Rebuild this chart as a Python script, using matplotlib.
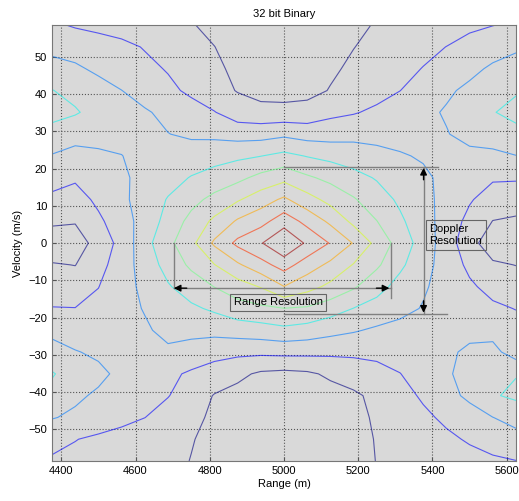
import numpy as np
import matplotlib
matplotlib.use("Agg")
import matplotlib.pyplot as plt

plt.rcParams['font.family'] = ['Liberation Sans', 'DejaVu Sans']

# grid of the ambiguity surface (range in m, velocity in m/s, top row first)
range_m = np.linspace(4375, 5625, 21)
velocity = np.linspace(58.5, -58.5, 21)

amb = np.array([
    [2.15, 1.91, 1.74, 1.57, 1.39, 1.22, 1.05, 0.80, 0.60, 0.50, 0.45, 0.50, 0.60, 0.80, 1.07, 1.25, 1.43, 1.62, 1.80, 1.98, 2.15],
    [2.70, 2.60, 2.45, 2.25, 1.94, 1.63, 1.32, 1.01, 0.70, 0.50, 0.45, 0.50, 0.65, 0.98, 1.25, 1.50, 1.76, 2.01, 2.35, 2.60, 2.85],
    [3.40, 3.15, 2.82, 2.53, 2.24, 1.93, 1.56, 1.18, 0.80, 0.55, 0.50, 0.55, 0.85, 1.17, 1.45, 1.74, 2.03, 2.39, 2.76, 3.15, 3.40],
    [4.03, 3.71, 3.36, 3.01, 2.62, 2.22, 1.81, 1.36, 0.95, 0.65, 0.60, 0.70, 1.05, 1.35, 1.67, 1.99, 2.42, 2.85, 3.20, 3.50, 3.90],
    [4.40, 4.10, 3.64, 3.37, 3.10, 2.77, 2.40, 2.04, 1.49, 1.34, 1.33, 1.38, 1.77, 1.93, 2.18, 2.48, 2.78, 3.09, 3.43, 3.95, 4.30],
    [3.56, 3.31, 3.24, 3.15, 3.12, 3.02, 2.84, 2.78, 2.61, 2.61, 2.80, 2.59, 2.58, 2.70, 2.67, 2.64, 2.70, 2.95, 3.30, 3.55, 3.70],
    [2.95, 2.73, 2.88, 2.99, 3.16, 3.32, 3.48, 3.64, 3.81, 3.98, 4.26, 3.95, 3.73, 3.52, 3.31, 3.09, 2.90, 2.70, 2.76, 2.74, 2.98],
    [2.38, 2.14, 2.54, 2.85, 3.27, 3.65, 4.05, 4.38, 4.74, 5.29, 5.70, 5.15, 4.74, 4.32, 3.92, 3.55, 3.18, 2.75, 2.46, 2.12, 2.10],
    [1.79, 1.58, 2.21, 2.79, 3.42, 4.06, 4.68, 5.29, 5.89, 6.54, 7.17, 6.38, 5.69, 5.09, 4.45, 3.83, 3.28, 2.70, 2.10, 1.53, 1.47],
    [1.20, 1.08, 1.81, 2.56, 3.40, 4.34, 5.31, 6.21, 7.13, 7.65, 8.56, 7.70, 6.80, 5.75, 5.02, 4.17, 3.41, 2.59, 1.71, 0.98, 0.85],
    [0.30, 0.44, 1.43, 2.30, 3.65, 4.74, 5.72, 7.17, 8.24, 8.92, 10.0, 8.82, 7.94, 6.94, 5.70, 4.58, 3.56, 2.50, 1.36, 0.42, 0.30],
    [1.08, 0.98, 1.67, 2.50, 3.44, 4.36, 5.19, 5.97, 6.85, 7.64, 8.41, 7.51, 6.77, 5.94, 5.17, 4.19, 3.37, 2.56, 1.79, 1.15, 0.98],
    [1.63, 1.49, 1.98, 2.60, 3.24, 3.91, 4.47, 5.02, 5.54, 6.06, 6.98, 6.36, 5.77, 5.13, 4.34, 3.67, 3.12, 2.62, 2.15, 1.70, 1.49],
    [2.03, 2.02, 2.25, 2.60, 3.07, 3.45, 3.83, 4.16, 4.60, 4.80, 4.98, 4.88, 4.46, 3.98, 3.64, 3.28, 2.94, 2.69, 2.43, 2.17, 1.97],
    [2.76, 2.54, 2.53, 2.60, 2.85, 3.30, 3.30, 3.30, 3.46, 3.58, 3.77, 3.59, 3.31, 3.09, 2.85, 2.70, 2.60, 2.55, 2.70, 2.67, 2.36],
    [3.36, 3.05, 2.85, 2.65, 2.69, 2.81, 2.57, 2.35, 2.23, 2.21, 2.27, 2.26, 2.21, 2.20, 2.22, 2.39, 2.52, 2.80, 3.20, 3.30, 2.50],
    [4.08, 3.55, 3.20, 2.79, 2.49, 2.19, 1.87, 1.54, 1.22, 0.85, 0.75, 0.85, 1.16, 1.43, 1.71, 1.98, 2.43, 2.89, 3.30, 3.77, 3.95],
    [3.70, 3.15, 2.87, 2.59, 2.32, 2.04, 1.51, 0.95, 0.70, 0.55, 0.50, 0.55, 0.65, 0.85, 1.22, 1.66, 2.13, 2.69, 3.20, 3.90, 4.20],
    [3.05, 2.85, 2.57, 2.29, 2.01, 1.61, 1.21, 0.85, 0.60, 0.45, 0.40, 0.45, 0.55, 0.75, 1.12, 1.47, 1.81, 2.18, 2.59, 2.99, 3.30],
    [2.37, 2.03, 1.82, 1.63, 1.43, 1.24, 1.04, 0.80, 0.55, 0.40, 0.35, 0.40, 0.50, 0.70, 1.05, 1.30, 1.56, 1.82, 2.10, 2.40, 2.70],
    [1.85, 1.75, 1.64, 1.50, 1.36, 1.20, 0.98, 0.75, 0.55, 0.40, 0.35, 0.40, 0.50, 0.70, 1.02, 1.20, 1.40, 1.55, 1.70, 1.85, 1.98],
])
levels = [1, 2, 3, 4, 5, 6, 7, 8, 9]

x_ticks = [4400, 4600, 4800, 5000, 5200, 5400, 5600]
y_ticks = [-50, -40, -30, -20, -10, 0, 10, 20, 30, 40, 50]

# resolution markers
range_res = (4703, 5289)
doppler_res = (20.5, -19.0)

fig = plt.figure(figsize=(5.19, 5.01), dpi=100)
ax = fig.add_axes([0.1002, 0.0798, 0.894, 0.870])
ax.set_facecolor('#d9d9d9')

ax.contour(range_m, velocity[::-1], amb[::-1], levels=levels, cmap='jet',
           vmin=1, vmax=9.2, linewidths=0.8, alpha=0.6)

ax.set_xlim(4375, 5625)
ax.set_ylim(-58.5, 58.5)
ax.set_xticks(x_ticks)
ax.set_yticks(y_ticks)
ax.tick_params(direction='in', length=3, labelsize=8, color='#555555')
ax.grid(True, linestyle=':', color='#555555', linewidth=0.8)
for s in ax.spines.values():
    s.set_color('#777777')

ax.set_title('32 bit Binary', fontsize=8, pad=6)
ax.set_xlabel('Range (m)', fontsize=8, labelpad=2)
ax.set_ylabel('Velocity (m/s)', fontsize=8, labelpad=4)

gray = '#808080'
# range bracket
x0, x1 = range_res
ax.plot([x0, x0], [0, -12.1], color=gray, lw=1)
ax.plot([x1, x1], [0, -14.7], color=gray, lw=1)
ax.plot([x0, x1], [-12.1, -12.1], color=gray, lw=1)
ax.annotate('', xy=(x0, -12.1), xytext=(x0 + 35, -12.1),
            arrowprops=dict(arrowstyle='-|>', color='k', mutation_scale=10, shrinkA=0, shrinkB=0))
ax.annotate('', xy=(x1 - 5, -12.1), xytext=(x1 - 40, -12.1),
            arrowprops=dict(arrowstyle='-|>', color='k', mutation_scale=10, shrinkA=0, shrinkB=0))
ax.text(4984, -15.9, 'Range Resolution', ha='center', va='center', fontsize=8,
        bbox=dict(boxstyle='square,pad=0.3', facecolor='none', edgecolor='#666666', lw=0.8))

# doppler bracket
y0, y1 = doppler_res
ax.plot([5000, 5416], [y0, y0], color=gray, lw=1)
ax.plot([5000, 5440], [y1, y1], color=gray, lw=1)
ax.plot([5376, 5376], [y0, y1], color=gray, lw=1)
ax.annotate('', xy=(5376, y0 - 0.3), xytext=(5376, y0 - 3.5),
            arrowprops=dict(arrowstyle='-|>', color='k', mutation_scale=10, shrinkA=0, shrinkB=0))
ax.annotate('', xy=(5376, y1 + 0.3), xytext=(5376, y1 + 3.5),
            arrowprops=dict(arrowstyle='-|>', color='k', mutation_scale=10, shrinkA=0, shrinkB=0))
ax.text(5392, 2.2, 'Doppler\nResolution', ha='left', va='center', fontsize=8, linespacing=1.2,
        bbox=dict(boxstyle='square,pad=0.35', facecolor='none', edgecolor='#666666', lw=0.8))

fig.savefig('out.png', dpi=100)
